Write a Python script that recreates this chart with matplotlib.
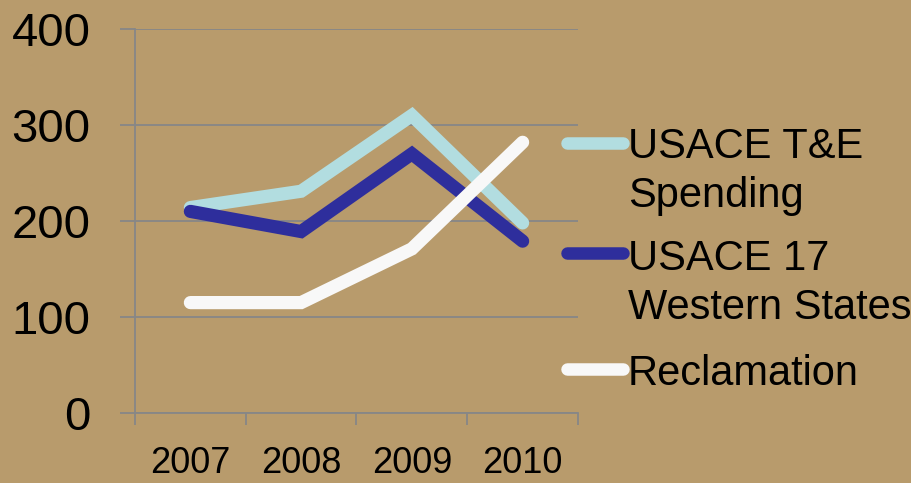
import matplotlib
matplotlib.use("Agg")
import matplotlib.pyplot as plt
from matplotlib.lines import Line2D
import numpy as np

# data
years = ["2007", "2008", "2009", "2010"]
usace_te = [214, 231, 310, 198]
usace_17 = [210, 189, 270, 179]
reclamation = [115, 115, 171, 282]

labels = [["USACE T&E", "Spending"], ["USACE 17", "Western States"], ["Reclamation"]]
colors = ["#b2dde0", "#2e2e9c", "#f8f8f8"]

plt.rcParams['font.family'] = ['Liberation Sans', 'DejaVu Sans']

bg = "#b89b6c"
W, H = 911, 483
fig = plt.figure(figsize=(W / 100, H / 100), dpi=100, facecolor=bg)
ax = fig.add_axes([135 / W, 1 - 413 / H, (578 - 135) / W, (413 - 29) / H])
ax.set_facecolor(bg)

x = np.arange(len(years))
for vals, c in zip([usace_te, usace_17, reclamation], colors):
    ax.plot(x, vals, color=c, lw=9.5, solid_capstyle='round', solid_joinstyle='miter')

ax.set_xlim(-0.5, len(years) - 0.5)
ax.set_ylim(0, 400)
ax.set_yticks([0, 100, 200, 300, 400])
ax.yaxis.grid(True, color="#878787", lw=1.3)
ax.set_axisbelow(True)

# category boundaries as major ticks, names as minor ticks
ax.set_xticks(np.arange(-0.5, len(years), 1.0))
ax.set_xticklabels([])
ax.set_xticks(x, minor=True)
ax.set_xticklabels(years, minor=True)
ax.tick_params(axis='x', which='major', direction='out', length=8.5, width=1.3, color="#878787")
ax.tick_params(axis='x', which='minor', length=0, pad=24, labelsize=26)
ax.tick_params(axis='y', direction='out', length=10.8, width=1.3, color="#878787",
               pad=21, labelsize=34)

for s in ['top', 'right']:
    ax.spines[s].set_visible(False)
for s in ['left', 'bottom']:
    ax.spines[s].set_color("#878787")
    ax.spines[s].set_linewidth(1.3)

# legend drawn by hand so the key sits on the first text line
key_y = [143, 253, 369]
base_y = [158, 270, 385]
for lines, c, ky, by in zip(labels, colors, key_y, base_y):
    fig.add_artist(Line2D([567 / W, 623 / W], [1 - ky / H, 1 - ky / H], color=c, lw=9,
                          solid_capstyle='round', transform=fig.transFigure))
    for i, t in enumerate(lines):
        fig.text(628 / W, 1 - (by + 49 * i) / H, t, fontsize=30, va='baseline', ha='left')

fig.savefig("out.png", dpi=100, facecolor=bg)
